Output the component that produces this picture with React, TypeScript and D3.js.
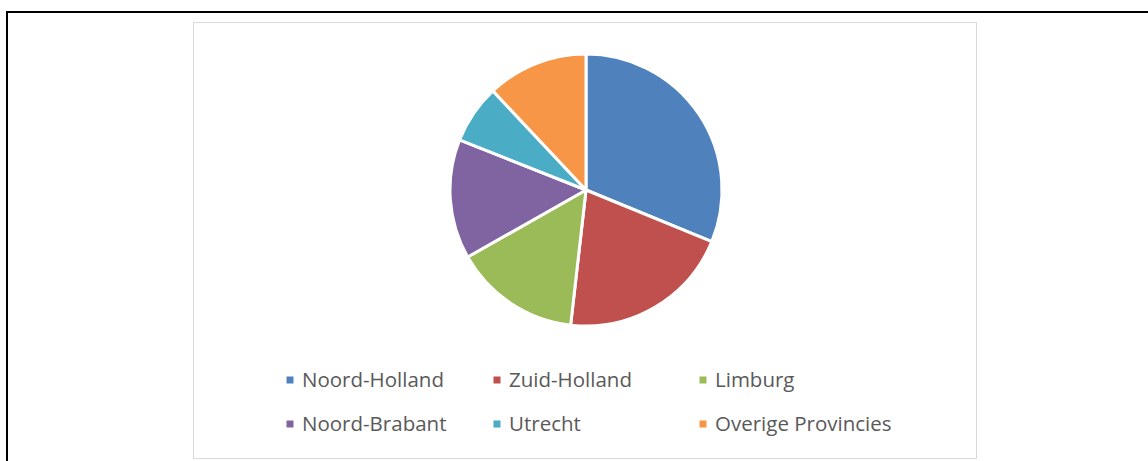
import { useEffect, useRef } from "react";
import * as d3 from "d3";

const provinces = [
  "Noord-Holland",
  "Zuid-Holland",
  "Limburg",
  "Noord-Brabant",
  "Utrecht",
  "Overige Provincies",
];
const shares = [31.2, 20.6, 15.0, 14.2, 7.0, 12.0];
const colors = ["#4F81BD", "#C0504D", "#9BBB59", "#8064A2", "#4BACC6", "#F79646"];

export default function App() {
  const ref = useRef<SVGSVGElement | null>(null);

  useEffect(() => {
    if (!ref.current) return;
    const svg = d3.select(ref.current);
    svg.selectAll("*").remove();

    const width = 1148;
    const height = 461;
    svg.attr("width", width).attr("height", height);

    // outer black frame (runs off the right and bottom)
    svg.append("rect")
      .attr("x", 7)
      .attr("y", 12)
      .attr("width", width + 10)
      .attr("height", height + 10)
      .attr("fill", "none")
      .attr("stroke", "#000")
      .attr("stroke-width", 2);

    // chart area frame
    svg.append("rect")
      .attr("x", 193.5)
      .attr("y", 22.5)
      .attr("width", 783)
      .attr("height", 436)
      .attr("fill", "#fff")
      .attr("stroke", "#d9d9d9")
      .attr("stroke-width", 1);

    const data = provinces.map((name, i) => ({ name, value: shares[i], color: colors[i] }));
    const pie = d3.pie<typeof data[0]>().value(d => d.value).sort(null);
    const arc = d3.arc<d3.PieArcDatum<typeof data[0]>>().innerRadius(0).outerRadius(136);

    const g = svg.append("g").attr("transform", "translate(586,190)");
    g.selectAll("path")
      .data(pie(data))
      .enter()
      .append("path")
      .attr("d", arc)
      .attr("fill", d => d.data.color)
      .attr("stroke", "#fff")
      .attr("stroke-width", 3)
      .attr("stroke-linejoin", "round");

    // legend, 3 columns x 2 rows
    const colX = [290, 497, 703];
    const rowY = [380, 424];
    const legend = svg.append("g");
    data.forEach((d, i) => {
      const x = colX[i % 3];
      const y = rowY[Math.floor(i / 3)];
      legend.append("rect")
        .attr("x", x - 3.5)
        .attr("y", y - 3.5)
        .attr("width", 7)
        .attr("height", 7)
        .attr("fill", d.color);
      legend.append("text")
        .attr("x", x + 12)
        .attr("y", y)
        .attr("dy", "0.35em")
        .attr("font-family", "'Open Sans', sans-serif")
        .attr("font-size", 20.5)
        .attr("fill", "#595959")
        .text(d.name);
    });
  }, []);

  return (
    <div style={{ position: "absolute", left: 0, top: 0 }}>
      <svg ref={ref} style={{ display: "block" }} />
    </div>
  );
}
